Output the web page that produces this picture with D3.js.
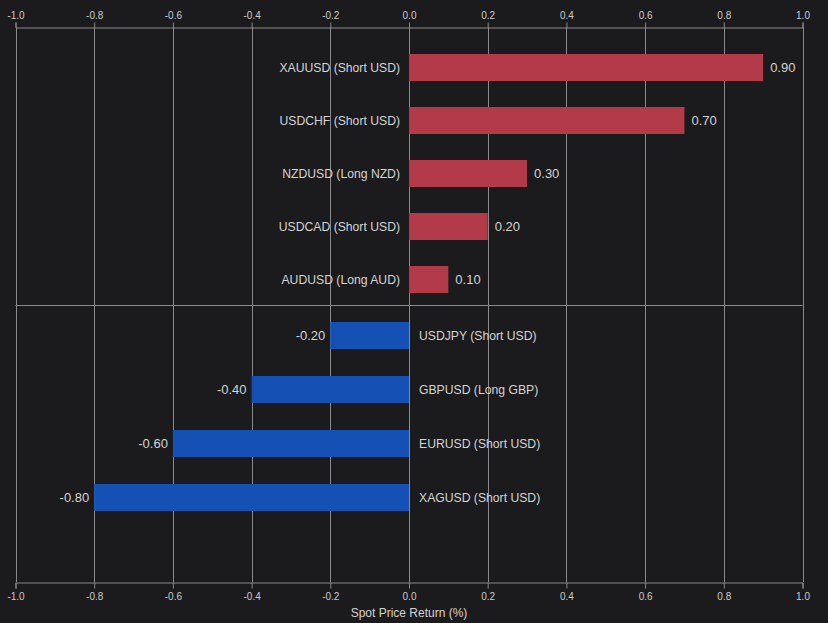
<!DOCTYPE html>
<html>
<head>
<meta charset="utf-8">
<script src="https://cdn.jsdelivr.net/npm/d3@7"></script>
<style>
  html, body { margin: 0; padding: 0; background: #1b1b1d; }
  svg { display: block; }
  text { font-family: "Liberation Sans", Arial, sans-serif; }
</style>
</head>
<body>
<svg id="chart" width="828" height="623"></svg>
<script>
const posCategories = ["XAUUSD (Short USD)", "USDCHF (Short USD)", "NZDUSD (Long NZD)", "USDCAD (Short USD)", "AUDUSD (Long AUD)"];
const posValues = [0.90, 0.70, 0.30, 0.20, 0.10];
const negCategories = ["USDJPY (Short USD)", "GBPUSD (Long GBP)", "EURUSD (Short USD)", "XAGUSD (Short USD)"];
const negValues = [-0.20, -0.40, -0.60, -0.80];
const xTicks = [-1.0, -0.8, -0.6, -0.4, -0.2, 0.0, 0.2, 0.4, 0.6, 0.8, 1.0];
const xTitle = "Spot Price Return (%)";

(function () {
const W = 828, H = 623;
const yTop = 27, yBottom = 582, ySep = 305;
const posColor = "#b33a48", negColor = "#1551b4";
const gridColor = "#8a8a8a", textColor = "#d4d4d4", tickTextColor = "#cccccc";

const svg = d3.select("#chart");
svg.append("rect").attr("width", W).attr("height", H).attr("fill", "#1b1b1d");

const x = d3.scaleLinear().domain([-1, 1]).range([15.5, 802.5]);

// grid
svg.append("g").selectAll("line").data(xTicks).join("line")
  .attr("x1", d => Math.round(x(d)) + 0.5).attr("x2", d => Math.round(x(d)) + 0.5)
  .attr("y1", yTop).attr("y2", yBottom)
  .attr("stroke", gridColor).attr("stroke-width", 1);

// axes
const fmt = d => d3.format(".1f")(d).replace("\u2212", "-");
const topAxis = d3.axisTop(x).tickValues(xTicks).tickFormat(fmt).tickSize(5).tickPadding(4);
const botAxis = d3.axisBottom(x).tickValues(xTicks).tickFormat(fmt).tickSize(6).tickPadding(4);
function styleAxis(g) {
  g.select(".domain").attr("stroke", gridColor);
  g.selectAll(".tick line").attr("stroke", gridColor);
  g.selectAll(".tick text").attr("fill", tickTextColor).style("font-size", "10px")
    .style("font-family", '"Liberation Sans", Arial, sans-serif');
}
svg.append("g").attr("transform", `translate(0,${yTop + 0.5})`).call(topAxis).call(styleAxis);
svg.append("g").attr("transform", `translate(0,${yBottom + 0.5})`).call(botAxis).call(styleAxis);

// separator
svg.append("line").attr("x1", x(-1)).attr("x2", x(1)).attr("y1", ySep + 0.5).attr("y2", ySep + 0.5)
  .attr("stroke", gridColor);

// band scales
const yPos = d3.scaleBand().domain(posCategories).range([54 - 13, 54 - 13 + 53 * 5]).paddingInner(26 / 53).paddingOuter(13 / 53);
const yNeg = d3.scaleBand().domain(negCategories).range([322 - 13.5, 322 - 13.5 + 54 * 4]).paddingInner(27 / 54).paddingOuter(13.5 / 54);

const x0 = x(0);
const posData = posCategories.map((c, i) => ({ c, v: posValues[i] }));
const negData = negCategories.map((c, i) => ({ c, v: negValues[i] }));
const valFmt = v => v.toFixed(2);

// positive bars
const gp = svg.append("g");
gp.selectAll("rect").data(posData).join("rect")
  .attr("x", x0).attr("y", d => yPos(d.c))
  .attr("width", d => x(d.v) - x0).attr("height", yPos.bandwidth())
  .attr("fill", posColor);
gp.selectAll("text.val").data(posData).join("text").attr("class", "val")
  .attr("x", d => x(d.v) + 7).attr("y", d => yPos(d.c) + yPos.bandwidth() / 2)
  .attr("dy", "0.35em").attr("fill", textColor).style("font-size", "13px")
  .text(d => valFmt(d.v));
gp.selectAll("text.cat").data(posData).join("text").attr("class", "cat")
  .attr("x", x0 - 9).attr("y", d => yPos(d.c) + yPos.bandwidth() / 2)
  .attr("dy", "0.35em").attr("text-anchor", "end").attr("fill", textColor).style("font-size", "12.2px")
  .text(d => d.c);

// negative bars
const gn = svg.append("g");
gn.selectAll("rect").data(negData).join("rect")
  .attr("x", d => x(d.v)).attr("y", d => yNeg(d.c))
  .attr("width", d => x0 - x(d.v)).attr("height", yNeg.bandwidth())
  .attr("fill", negColor);
gn.selectAll("text.val").data(negData).join("text").attr("class", "val")
  .attr("x", d => x(d.v) - 5).attr("y", d => yNeg(d.c) + yNeg.bandwidth() / 2)
  .attr("dy", "0.35em").attr("text-anchor", "end").attr("fill", textColor).style("font-size", "13px")
  .text(d => valFmt(d.v));
gn.selectAll("text.cat").data(negData).join("text").attr("class", "cat")
  .attr("x", x0 + 10).attr("y", d => yNeg(d.c) + yNeg.bandwidth() / 2)
  .attr("dy", "0.35em").attr("fill", textColor).style("font-size", "12.2px")
  .text(d => d.c);

// title
svg.append("text").attr("x", x0).attr("y", 613).attr("dy", "0.35em")
  .attr("text-anchor", "middle").attr("fill", textColor).style("font-size", "12px")
  .text(xTitle);
})();
</script>
</body>
</html>
